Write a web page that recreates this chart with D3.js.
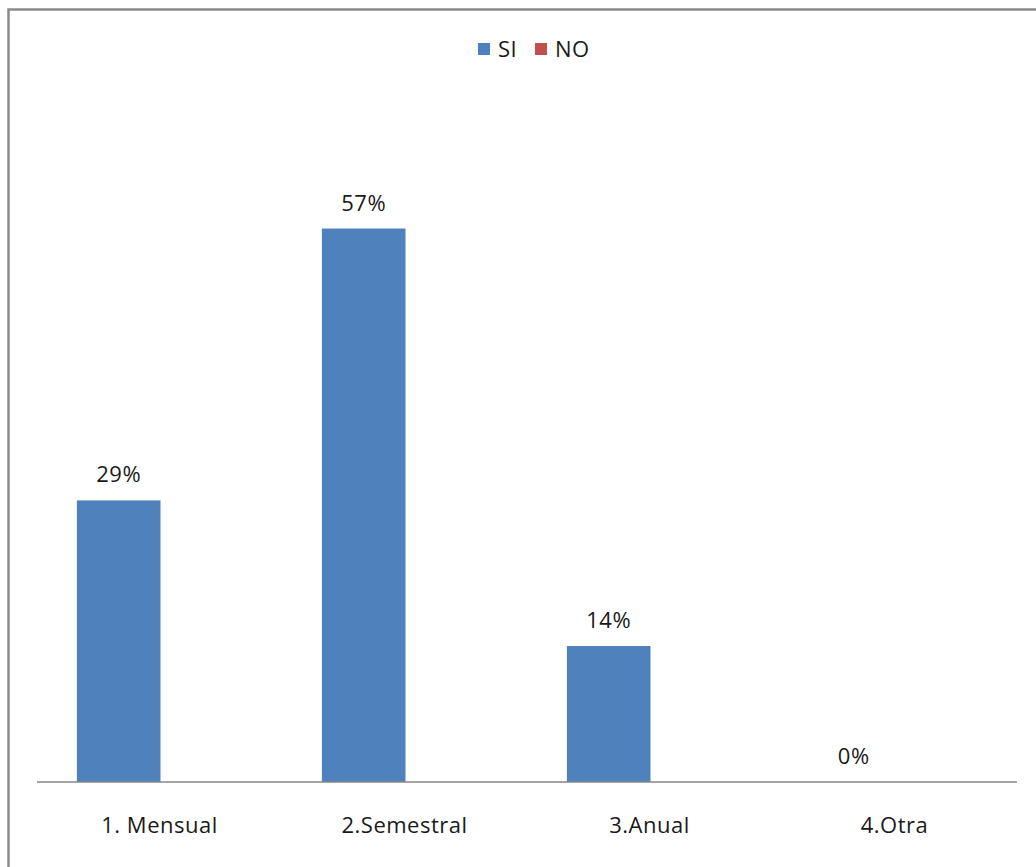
<!DOCTYPE html>
<html>
<head>
<meta charset="utf-8">
<script src="https://cdn.jsdelivr.net/npm/d3@7"></script>
<style>
  html, body { margin: 0; padding: 0; background: #fff; }
  svg { display: block; font-family: "Open Sans", "Noto Sans", sans-serif; }
  text { letter-spacing: 0.5px; }
</style>
</head>
<body>
<svg id="chart" width="1036" height="867"></svg>
<script>
// Frequency categories and the share answering for each series
const categories = ["1. Mensual", "2.Semestral", "3.Anual", "4.Otra"];
const seriesNames = ["SI", "NO"];
const siValues = [29, 57, 14, 0];
const noValues = [0, 0, 0, 0];
const valueLabels = ["29%", "57%", "14%", "0%"];
const seriesColors = ["#4F81BD", "#C0504D"];

const svg = d3.select("#chart");
const W = 1036, H = 867;

// outer chart frame
svg.append("rect")
  .attr("x", 8.5).attr("y", 9.5)
  .attr("width", W + 20).attr("height", H + 20)
  .attr("fill", "#fff")
  .attr("stroke", "#8a8a8a")
  .attr("stroke-width", 2.5);

const plot = { left: 37, right: 1017, bottom: 782 };

const x0 = d3.scaleBand().domain(categories).range([plot.left, plot.right]).padding(0);
const x1 = d3.scaleBand().domain(seriesNames).range([1, x0.bandwidth() + 1]).paddingInner(0).paddingOuter(0.465);
const y = d3.scaleLinear().domain([0, 60]).range([plot.bottom, plot.bottom - 60 * 9.71]);

const rows = categories.map((c, i) => ({
  cat: c,
  vals: [
    { s: seriesNames[0], v: siValues[i], label: valueLabels[i] },
    { s: seriesNames[1], v: noValues[i], label: null }
  ]
}));

const groups = svg.append("g").selectAll("g")
  .data(rows).join("g")
  .attr("transform", d => `translate(${x0(d.cat)},0)`);

groups.selectAll("rect")
  .data(d => d.vals).join("rect")
  .attr("x", d => x1(d.s))
  .attr("y", d => y(d.v))
  .attr("width", x1.bandwidth())
  .attr("height", d => y(0) - y(d.v))
  .attr("fill", (d, i) => seriesColors[i]);

// value labels above the SI bars
groups.selectAll("text.val")
  .data(d => d.vals.filter(v => v.label !== null)).join("text")
  .attr("class", "val")
  .attr("x", d => x1(d.s) + x1.bandwidth() / 2)
  .attr("y", d => y(d.v) - 18)
  .attr("text-anchor", "middle")
  .attr("font-size", 22)
  .attr("fill", "#1a1a1a")
  .text(d => d.label);

// category axis
const xAxis = d3.axisBottom(x0).tickSize(0).tickPadding(0);
const axisG = svg.append("g")
  .attr("transform", `translate(0,${plot.bottom})`)
  .call(xAxis);
axisG.select(".domain").attr("stroke", "#868686").attr("stroke-width", 1.5)
  .attr("d", `M${plot.left},0H${plot.right}`);
axisG.selectAll(".tick text")
  .attr("font-family", "\"Open Sans\", sans-serif")
  .attr("font-size", 22)
  .attr("fill", "#1a1a1a")
  .attr("dy", 0)
  .attr("y", 51);

// legend
const legendItems = [
  { name: seriesNames[0], color: seriesColors[0], x: 478 },
  { name: seriesNames[1], color: seriesColors[1], x: 535 }
];
const lg = svg.append("g").selectAll("g").data(legendItems).join("g")
  .attr("transform", d => `translate(${d.x},43)`);
lg.append("rect").attr("width", 12).attr("height", 12).attr("fill", d => d.color);
lg.append("text")
  .attr("x", 20).attr("y", 14)
  .attr("font-size", 22)
  .attr("fill", "#1a1a1a")
  .text(d => d.name);
</script>
</body>
</html>
